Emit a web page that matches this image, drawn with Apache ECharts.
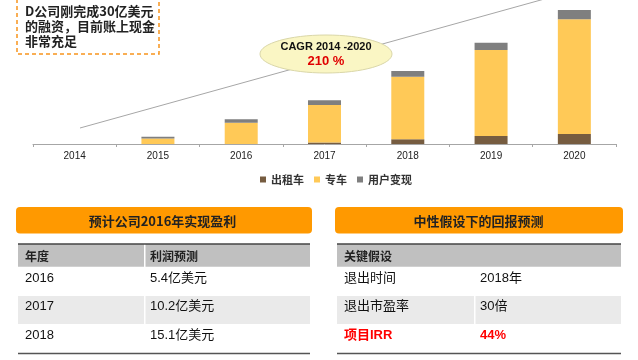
<!DOCTYPE html>
<html><head><meta charset="utf-8">
<script src="https://cdn.jsdelivr.net/npm/echarts@6/dist/echarts.min.js"></script>
<style>html,body{margin:0;padding:0;background:#fff}#c{width:638px;height:360px}</style>
</head><body><div id="c"></div>
<script>
// ---- data ----
var years = ['2014','2015','2016','2017','2018','2019','2020'];
var seriesNames = ['出租车','专车','用户变现'];
var taxi = [0, 0, 0, 1.5, 4.7, 8, 10];
var car  = [0, 5.6, 21.3, 37.5, 62.6, 86, 114.7];
var user = [0, 1.6, 3.4, 4.7, 5.7, 7.3, 9.3];
var noteLines = ['D公司刚完成30亿美元', '的融资，目前账上现金', '非常充足'];
var cagrTitle = 'CAGR 2014 -2020';
var cagrValue = '210 %';
var leftTitle = '预计公司2016年实现盈利';
var leftHead = ['年度', '利润预测'];
var leftYears = ['2016', '2017', '2018'];
var leftProfits = ['5.4亿美元', '10.2亿美元', '15.1亿美元'];
var rightTitle = '中性假设下的回报预测';
var rightHead = '关键假设';
var rightKeys = ['退出时间', '退出市盈率', '项目IRR'];
var rightVals = ['2018年', '30倍', '44%'];

var colors = ['#765C40', '#FFC957', '#7F7F7F'];
var CJK = '"Noto Sans CJK SC", "Liberation Sans", sans-serif';
var LAT = '"Liberation Sans", "Noto Sans CJK SC", sans-serif';

var g = [];
// dashed note box
g.push({type:'rect', shape:{x:17, y:-10, width:142, height:64}, style:{fill:'#fff', stroke:'#F7941D', lineWidth:1.5, lineDash:[4,3]}, z:10});
noteLines.forEach(function(t,i){
  g.push({type:'text', x:25, y:11 + i*15, style:{text:t, font:'bold 13px ' + CJK, fill:'#222', verticalAlign:'middle'}, z:11});
});
// CAGR trend line + ellipse
g.push({type:'line', shape:{x1:80, y1:128, x2:548, y2:-2}, style:{stroke:'#A6A6A6', lineWidth:1}, z:5});
g.push({type:'ellipse', shape:{cx:326, cy:54, rx:66, ry:19}, style:{fill:'#FAF6C4', stroke:'#D9D6A8', lineWidth:1}, z:6});
g.push({type:'text', x:326, y:47, style:{text:cagrTitle, font:'bold 11px ' + LAT, fill:'#111', align:'center', verticalAlign:'middle'}, z:7});
g.push({type:'text', x:326, y:61, style:{text:cagrValue, font:'bold 13px ' + LAT, fill:'#E00000', align:'center', verticalAlign:'middle'}, z:7});

// tables
function table(x0, x1, colX, title, titleCx, headCells, rows, redLast, dividerRows){
  g.push({type:'rect', shape:{x:x0-2, y:207, width:x1-x0+4, height:26.5, r:4}, style:{fill:'#FF9900'}, z:5});
  g.push({type:'text', x:titleCx, y:221, style:{text:title, font:'bold 13px ' + CJK, fill:'#222', align:'center', verticalAlign:'middle'}, z:6});
  g.push({type:'rect', shape:{x:x0, y:244, width:x1-x0, height:22.7}, style:{fill:'#C0C0C0'}, z:5});
  g.push({type:'rect', shape:{x:x0, y:296, width:x1-x0, height:28}, style:{fill:'#EAEAEA'}, z:5});
  dividerRows.forEach(function(r){
    g.push({type:'rect', shape:{x:colX-6, y:r[0], width:1.5, height:r[1]-r[0]}, style:{fill:'#fff'}, z:6});
  });
  g.push({type:'line', shape:{x1:x0, y1:244, x2:x1, y2:244}, style:{stroke:'#444', lineWidth:1.5}, z:7});
  g.push({type:'line', shape:{x1:x0, y1:353.5, x2:x1, y2:353.5}, style:{stroke:'#555', lineWidth:1.5}, z:7});
  headCells.forEach(function(h,i){
    g.push({type:'text', x: i===0 ? x0+7 : colX, y:256, style:{text:h, font:'bold 12px ' + CJK, fill:'#222', verticalAlign:'middle'}, z:8});
  });
  var ys = [278, 306.5, 335];
  rows.forEach(function(r,i){
    var red = redLast && i===rows.length-1;
    r.forEach(function(t,j){
      g.push({type:'text', x: j===0 ? x0+7 : colX, y:ys[i], style:{text:t, font:(red?'bold ':'') + '13px ' + LAT, fill: red ? '#FF0000' : '#111', verticalAlign:'middle'}, z:8});
    });
  });
}
table(18, 310, 150, leftTitle, 162.5, leftHead,
  leftYears.map(function(y,i){return [y, leftProfits[i]];}), false, [[244,267],[296,324]]);
table(337, 621, 480, rightTitle, 478.5, [rightHead],
  rightKeys.map(function(k,i){return [k, rightVals[i]];}), true, [[296,324]]);

var chart = echarts.init(document.getElementById('c'), null, {renderer:'canvas'});
chart.setOption({
  animation:false,
  color: colors,
  grid:{left:33, right:22, top:0, bottom:216, containLabel:false},
  legend:{
    data: seriesNames, left:255, top:169, itemWidth:6, itemHeight:6, itemGap:10, icon:'rect',
    textStyle:{fontFamily:CJK, fontSize:11, color:'#333', fontWeight:'bold'}
  },
  xAxis:{
    type:'category', data:years,
    axisLine:{lineStyle:{color:'#A6A6A6', width:1}},
    axisTick:{show:true, length:3, lineStyle:{color:'#A6A6A6'}},
    axisLabel:{color:'#222', fontSize:10, fontFamily:LAT, margin:7}
  },
  yAxis:{type:'value', min:0, max:144, show:false, splitLine:{show:false}},
  series:[
    {name:seriesNames[0], type:'bar', stack:'s', data:taxi, barWidth:33},
    {name:seriesNames[1], type:'bar', stack:'s', data:car, barWidth:33},
    {name:seriesNames[2], type:'bar', stack:'s', data:user, barWidth:33}
  ],
  graphic: g
});
</script></body></html>
